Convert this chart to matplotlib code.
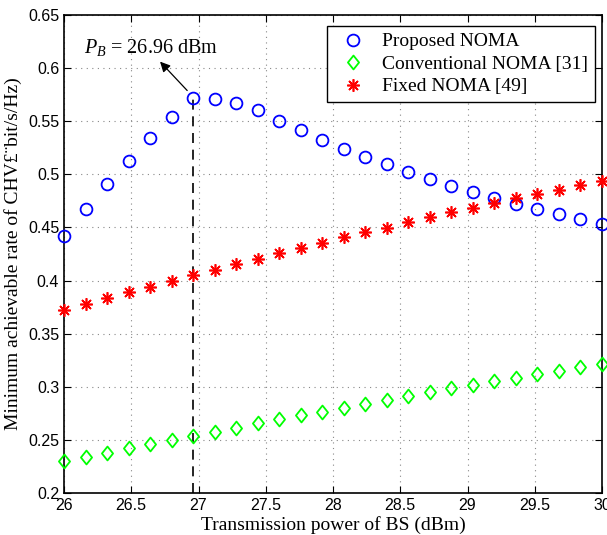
import numpy as np
import matplotlib
matplotlib.use("Agg")
import matplotlib.pyplot as plt
from matplotlib.path import Path

power = [26.0, 26.16, 26.32, 26.48, 26.64, 26.8, 26.96, 27.12, 27.28, 27.44, 27.6, 27.76, 27.92,
         28.08, 28.24, 28.4, 28.56, 28.72, 28.88, 29.04, 29.2, 29.36, 29.52, 29.68, 29.84, 30.0]
proposed = [0.442, 0.467, 0.491, 0.513, 0.534, 0.5537, 0.5716, 0.571, 0.567, 0.561, 0.5505, 0.5414, 0.532,
            0.5238, 0.5166, 0.5094, 0.5019, 0.4953, 0.4893, 0.4833, 0.478, 0.472, 0.467, 0.4623, 0.4579, 0.4532]
conventional = [0.230, 0.2338, 0.2379, 0.242, 0.246, 0.2498, 0.2539, 0.2576, 0.2614, 0.2655, 0.2693, 0.273, 0.2765,
                0.2802, 0.284, 0.2875, 0.2912, 0.2947, 0.2985, 0.302, 0.3051, 0.3085, 0.312, 0.3151, 0.3183, 0.3214]
fixed = [0.3722, 0.3779, 0.3832, 0.3889, 0.3942, 0.3995, 0.4052, 0.4102, 0.4155, 0.4205, 0.4256, 0.4303, 0.435,
         0.4407, 0.4454, 0.4497, 0.4551, 0.4595, 0.4642, 0.4686, 0.473, 0.4773, 0.4814, 0.4855, 0.4896, 0.4937]

p_best = 26.96
r_best = 0.5716

serif = "Liberation Serif"
sans = "Liberation Sans"
plt.rcParams["mathtext.fontset"] = "custom"
plt.rcParams["mathtext.rm"] = "Liberation Serif"
plt.rcParams["mathtext.it"] = "Liberation Serif:italic"

# matlab style diamond, a bit wider than matplotlib's thin one
diamond = Path([(0, 1), (0.8, 0), (0, -1), (-0.8, 0), (0, 1)],
               [Path.MOVETO, Path.LINETO, Path.LINETO, Path.LINETO, Path.CLOSEPOLY])

fig = plt.figure(figsize=(6.07, 5.35), dpi=100)
ax = fig.add_axes([64 / 607, 1 - 493 / 535, 538 / 607, 478 / 535])

ax.plot(power, proposed, linestyle="none", marker="o", markersize=8.5, markerfacecolor="none",
        markeredgecolor="#0000ff", markeredgewidth=1.3, label="Proposed NOMA", clip_on=False, zorder=3)
ax.plot(power, conventional, linestyle="none", marker=diamond, markersize=10, markerfacecolor="none",
        markeredgecolor="#00ff00", markeredgewidth=1.3, label="Conventional NOMA [31]", clip_on=False, zorder=3)
ax.plot(power, fixed, linestyle="none", marker=(8, 2, 0), markersize=9, markerfacecolor="none",
        markeredgecolor="#ff0000", markeredgewidth=1.2, label="Fixed NOMA [49]", clip_on=False, zorder=3)

# marker for the optimum power
ax.plot([p_best, p_best], [0.2, r_best], color="black", linestyle=(0, (6, 4)), linewidth=1.2, zorder=2)
ax.annotate("", xy=(26.70, 0.608), xytext=(26.93, 0.577),
            arrowprops=dict(arrowstyle="-|>", color="black", lw=0.9, mutation_scale=15))
ax.text(26.65, 0.619, r"$P_B$ = 26.96 dBm", fontsize=14.5, family=serif, ha="center", va="center")

ax.set_xlim(26, 30)
ax.set_ylim(0.2, 0.65)
ax.set_xticks(np.arange(26, 30.01, 0.5))
ax.set_xticklabels(["26", "26.5", "27", "27.5", "28", "28.5", "29", "29.5", "30"])
ax.set_yticks(np.arange(0.2, 0.651, 0.05))
ax.set_yticklabels(["0.2", "0.25", "0.3", "0.35", "0.4", "0.45", "0.5", "0.55", "0.6", "0.65"])
ax.tick_params(direction="in", top=True, right=True, length=5, width=0.8, labelsize=11.5)
for lab in ax.get_xticklabels() + ax.get_yticklabels():
    lab.set_fontfamily(sans)
ax.grid(True, linestyle=(0, (1, 4)), color="#888888", linewidth=0.8)
for s in ax.spines.values():
    s.set_linewidth(1.2)

ax.set_xlabel("Transmission power of BS (dBm)", fontsize=14, family=serif, labelpad=2)
ax.set_ylabel("Minimum achievable rate of CHV£¨bit/s/Hz)", fontsize=14, family=serif, labelpad=4)

leg = ax.legend(loc="upper right", prop={"family": serif, "size": 14},
                fancybox=False, edgecolor="black", framealpha=1, borderpad=0.35,
                labelspacing=0.25, handletextpad=0.5, handlelength=2.0, borderaxespad=0)
leg.set_bbox_to_anchor((595 / 607, 1 - 26 / 535), transform=fig.transFigure)
leg.get_frame().set_linewidth(1.0)

fig.savefig("out.png", dpi=100)
